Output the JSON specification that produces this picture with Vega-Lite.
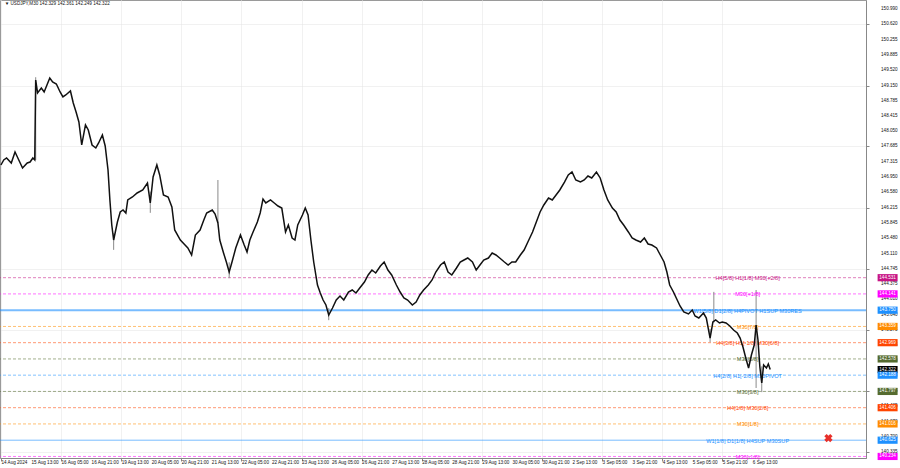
{
  "$schema": "https://vega.github.io/schema/vega-lite/v6.json",
  "width": 866,
  "height": 458,
  "autosize": {"type": "none"},
  "padding": {"left": 0, "top": 0, "right": 34, "bottom": 10},
  "background": "white",
  "config": {
    "view": {"stroke": "#9a9a9a", "strokeWidth": 1},
    "axis": {"labels": false, "domainColor": "#888", "tickColor": "#888", "gridColor": "#e2e2e2", "gridDash": [1, 1], "zindex": 0, "title": null}
  },
  "datasets": {
    "px": [
      {"i":0,"c":147.240},{"i":3,"c":147.360},{"i":6,"c":147.408},{"i":11,"c":147.288},{"i":15,"c":147.553},{"i":17,"c":147.457},{"i":20,"c":147.312},{"i":23,"c":147.168},{"i":28,"c":147.288},{"i":31,"c":147.312},{"i":34,"c":147.408},{"i":36,"c":147.360},{"i":37,"c":149.283},{"i":39,"c":148.971},{"i":43,"c":149.091},{"i":46,"c":148.995},{"i":49,"c":149.163},{"i":52,"c":149.331},{"i":55,"c":149.235},{"i":59,"c":149.187},{"i":63,"c":148.995},{"i":66,"c":148.875},{"i":69,"c":148.923},{"i":74,"c":149.019},{"i":77,"c":148.730},{"i":80,"c":148.514},{"i":83,"c":148.274},{"i":86,"c":147.721},{"i":90,"c":148.202},{"i":93,"c":148.081},{"i":97,"c":147.721},{"i":101,"c":147.649},{"i":104,"c":147.769},{"i":108,"c":147.961},{"i":111,"c":147.697},{"i":114,"c":147.120},{"i":116,"c":146.399},{"i":118,"c":145.798},{"i":120,"c":145.437},{"i":124,"c":145.870},{"i":127,"c":146.110},{"i":130,"c":146.158},{"i":133,"c":146.086},{"i":135,"c":146.399},{"i":140,"c":146.471},{"i":145,"c":146.567},{"i":151,"c":146.639},{"i":156,"c":146.807},{"i":159,"c":146.327},{"i":162,"c":146.952},{"i":166,"c":147.240},{"i":169,"c":147.000},{"i":173,"c":146.519},{"i":178,"c":146.471},{"i":182,"c":146.230},{"i":185,"c":145.678},{"i":191,"c":145.437},{"i":195,"c":145.341},{"i":199,"c":145.245},{"i":203,"c":145.077},{"i":207,"c":145.557},{"i":212,"c":145.678},{"i":216,"c":145.918},{"i":219,"c":146.086},{"i":225,"c":146.158},{"i":228,"c":146.062},{"i":231,"c":145.846},{"i":233,"c":145.437},{"i":237,"c":145.125},{"i":240,"c":144.908},{"i":243,"c":144.668},{"i":246,"c":144.908},{"i":250,"c":145.245},{"i":255,"c":145.557},{"i":259,"c":145.317},{"i":262,"c":145.149},{"i":265,"c":145.437},{"i":268,"c":145.606},{"i":273,"c":145.870},{"i":276,"c":146.086},{"i":279,"c":146.423},{"i":282,"c":146.327},{"i":287,"c":146.399},{"i":291,"c":146.327},{"i":295,"c":146.254},{"i":299,"c":146.206},{"i":303,"c":145.630},{"i":306,"c":145.798},{"i":310,"c":145.485},{"i":313,"c":145.437},{"i":316,"c":145.798},{"i":321,"c":146.038},{"i":324,"c":146.206},{"i":327,"c":146.038},{"i":330,"c":145.437},{"i":333,"c":144.908},{"i":337,"c":144.355},{"i":340,"c":144.163},{"i":343,"c":143.995},{"i":346,"c":143.875},{"i":349,"c":143.634},{"i":353,"c":143.803},{"i":357,"c":143.995},{"i":361,"c":144.091},{"i":365,"c":143.995},{"i":370,"c":144.187},{"i":374,"c":144.235},{"i":378,"c":144.163},{"i":382,"c":144.283},{"i":387,"c":144.428},{"i":391,"c":144.596},{"i":395,"c":144.716},{"i":399,"c":144.644},{"i":404,"c":144.812},{"i":408,"c":144.908},{"i":412,"c":144.716},{"i":416,"c":144.596},{"i":421,"c":144.355},{"i":425,"c":144.187},{"i":429,"c":144.043},{"i":433,"c":143.995},{"i":438,"c":143.875},{"i":442,"c":143.947},{"i":446,"c":144.115},{"i":450,"c":144.235},{"i":455,"c":144.355},{"i":459,"c":144.476},{"i":463,"c":144.668},{"i":468,"c":144.836},{"i":472,"c":144.908},{"i":476,"c":144.668},{"i":480,"c":144.596},{"i":485,"c":144.764},{"i":489,"c":144.908},{"i":493,"c":144.956},{"i":497,"c":145.004},{"i":502,"c":144.908},{"i":506,"c":144.716},{"i":510,"c":144.836},{"i":514,"c":144.956},{"i":519,"c":145.004},{"i":523,"c":145.125},{"i":527,"c":145.077},{"i":531,"c":145.004},{"i":536,"c":144.908},{"i":540,"c":144.836},{"i":544,"c":144.908},{"i":548,"c":144.908},{"i":553,"c":145.077},{"i":557,"c":145.197},{"i":561,"c":145.389},{"i":566,"c":145.630},{"i":570,"c":145.870},{"i":574,"c":146.110},{"i":578,"c":146.279},{"i":583,"c":146.447},{"i":587,"c":146.399},{"i":591,"c":146.519},{"i":595,"c":146.639},{"i":600,"c":146.831},{"i":604,"c":147.000},{"i":608,"c":147.072},{"i":612,"c":146.879},{"i":617,"c":146.831},{"i":621,"c":146.879},{"i":625,"c":146.976},{"i":629,"c":146.928},{"i":634,"c":147.072},{"i":638,"c":146.928},{"i":642,"c":146.639},{"i":646,"c":146.399},{"i":651,"c":146.206},{"i":655,"c":146.110},{"i":659,"c":145.918},{"i":663,"c":145.798},{"i":668,"c":145.630},{"i":672,"c":145.485},{"i":676,"c":145.437},{"i":681,"c":145.389},{"i":685,"c":145.485},{"i":689,"c":145.341},{"i":693,"c":145.317},{"i":698,"c":145.245},{"i":702,"c":145.077},{"i":706,"c":144.908},{"i":709,"c":144.668},{"i":712,"c":144.355},{"i":716,"c":144.187},{"i":719,"c":144.043},{"i":723,"c":143.851},{"i":727,"c":143.707},{"i":732,"c":143.659},{"i":736,"c":143.755},{"i":739,"c":143.610},{"i":743,"c":143.562},{"i":748,"c":143.682},{"i":751,"c":143.562},{"i":755,"c":143.081},{"i":758,"c":143.466},{"i":761,"c":143.514},{"i":765,"c":143.442},{"i":768,"c":143.466},{"i":772,"c":143.442},{"i":776,"c":143.370},{"i":780,"c":143.274},{"i":784,"c":143.201},{"i":787,"c":143.081},{"i":790,"c":142.865},{"i":793,"c":142.601},{"i":796,"c":142.360},{"i":799,"c":142.673},{"i":802,"c":142.913},{"i":804,"c":143.394},{"i":806,"c":143.033},{"i":808,"c":142.385},{"i":810,"c":142.000},{"i":812,"c":142.433},{"i":815,"c":142.360},{"i":817,"c":142.457},{"i":819,"c":142.322}
    ],
    "wicks": [
      {"i":37,"lo":147.36,"hi":149.35},{"i":120,"lo":145.20,"hi":145.60},{"i":159,"lo":146.09,"hi":146.60},{"i":231,"lo":145.846,"hi":146.879},{"i":243,"lo":144.52,"hi":144.90},{"i":349,"lo":143.51,"hi":143.80},{"i":755,"lo":142.98,"hi":143.30},{"i":759,"lo":143.45,"hi":144.19},{"i":804,"lo":141.88,"hi":144.235},{"i":810,"lo":141.78,"hi":142.40}
    ],
    "levels": [
      {"p":144.531,"t":"H4[5/8] H1[1/8] M30[+2/8]"},
      {"p":144.141,"t":"M30[+1/8]"},
      {"p":143.750,"t":"W1[5/8] D1[2/8] H4PIVOT H1SUP M30RES"},
      {"p":143.359,"t":"M30[7/8]"},
      {"p":142.969,"t":"H4[3/8] H1[-1/8] M30[6/8]"},
      {"p":142.578,"t":"M30[5/8]"},
      {"p":142.188,"t":"H4[2/8] H1[-2/8] M30PIVOT"},
      {"p":141.797,"t":"M30[3/8]"},
      {"p":141.406,"t":"H4[1/8] M30[2/8]"},
      {"p":141.016,"t":"M30[1/8]"},
      {"p":140.625,"t":"W1[1/8] D1[1/8] H4SUP M30SUP"},
      {"p":140.234,"t":"M30[-1/8]"}
    ],
    "boxes": [
      {"p":144.531,"k":"a"},{"p":144.141,"k":"b"},{"p":143.750,"k":"c"},{"p":143.359,"k":"d"},{"p":142.969,"k":"e"},{"p":142.578,"k":"f"},{"p":142.322,"k":"g"},{"p":142.188,"k":"c"},{"p":141.797,"k":"f"},{"p":141.406,"k":"e"},{"p":141.016,"k":"d"},{"p":140.625,"k":"c"},{"p":140.234,"k":"b"}
    ],
    "yticks": [{"p":150.990},{"p":150.620},{"p":150.255},{"p":149.885},{"p":149.520},{"p":149.150},{"p":148.785},{"p":148.415},{"p":148.050},{"p":147.685},{"p":147.315},{"p":146.950},{"p":146.580},{"p":146.215},{"p":145.845},{"p":145.480},{"p":145.110},{"p":144.745},{"p":144.375},{"p":144.010},{"p":143.640},{"p":143.275},{"p":142.905},{"p":142.540},{"p":142.170},{"p":141.805},{"p":141.435},{"p":141.070},{"p":140.700},{"p":140.335}],
    "xticks": [{"i":0,"s":"14 Aug 2024"},{"i":32,"s":"15 Aug 13:00"},{"i":64,"s":"16 Aug 05:00"},{"i":96,"s":"16 Aug 21:00"},{"i":128,"s":"19 Aug 13:00"},{"i":160,"s":"20 Aug 05:00"},{"i":192,"s":"20 Aug 21:00"},{"i":224,"s":"21 Aug 13:00"},{"i":256,"s":"22 Aug 05:00"},{"i":288,"s":"22 Aug 21:00"},{"i":320,"s":"23 Aug 13:00"},{"i":352,"s":"26 Aug 05:00"},{"i":384,"s":"26 Aug 21:00"},{"i":416,"s":"27 Aug 13:00"},{"i":448,"s":"28 Aug 05:00"},{"i":480,"s":"28 Aug 21:00"},{"i":512,"s":"29 Aug 13:00"},{"i":544,"s":"30 Aug 05:00"},{"i":576,"s":"30 Aug 21:00"},{"i":608,"s":"2 Sep 13:00"},{"i":640,"s":"3 Sep 05:00"},{"i":672,"s":"3 Sep 21:00"},{"i":704,"s":"4 Sep 13:00"},{"i":736,"s":"5 Sep 05:00"},{"i":768,"s":"5 Sep 21:00"},{"i":800,"s":"6 Sep 13:00"}],
    "mark": [{"i":881,"p":140.677}],
    "head": [{"i":4,"p":151.10,"s":"▼ USDJPY,M30  142.329 142.361 142.249 142.322"}]
  },
  "layer": [
    {
      "data": {"name": "levels"},
      "transform": [{"filter": "datum.p != 143.75 && datum.p != 140.625"}],
      "mark": {"type": "rule", "strokeDash": [3, 2], "strokeWidth": 1, "opacity": 0.55},
      "encoding": {
        "y": {"field": "p", "type": "quantitative", "scale": {"domain": [140.197, 151.206], "nice": false, "zero": false},
          "axis": {"orient": "right", "values": [150.990,150.620,150.255,149.885,149.520,149.150,148.785,148.415,148.050,147.685,147.315,146.950,146.580,146.215,145.845,145.480,145.110,144.745,144.375,144.010,143.640,143.275,142.905,142.540,142.170,141.805,141.435,141.070,140.700,140.335], "tickSize": 3, "grid": true, "domain": true}},
        "color": {"field": "t", "type": "nominal", "legend": null,
          "scale": {"domain": ["H4[5/8] H1[1/8] M30[+2/8]","M30[+1/8]","W1[5/8] D1[2/8] H4PIVOT H1SUP M30RES","M30[7/8]","H4[3/8] H1[-1/8] M30[6/8]","M30[5/8]","H4[2/8] H1[-2/8] M30PIVOT","M30[3/8]","H4[1/8] M30[2/8]","M30[1/8]","W1[1/8] D1[1/8] H4SUP M30SUP","M30[-1/8]"],
                    "range": ["#C71585","#FF00FF","#1E90FF","#FF8C00","#FF4500","#556B2F","#1E90FF","#556B2F","#FF4500","#FF8C00","#1E90FF","#FF00FF"]}}
      }
    },
    {
      "data": {"name": "levels"},
      "transform": [{"filter": "datum.p == 143.75"}],
      "mark": {"type": "rule", "strokeWidth": 2, "color": "#1E90FF", "opacity": 0.6},
      "encoding": {"y": {"field": "p", "type": "quantitative"}}
    },
    {
      "data": {"name": "levels"},
      "transform": [{"filter": "datum.p == 140.625"}],
      "mark": {"type": "rule", "strokeWidth": 1, "color": "#1E90FF", "opacity": 0.6},
      "encoding": {"y": {"field": "p", "type": "quantitative"}}
    },
    {
      "data": {"name": "wicks"},
      "mark": {"type": "rule", "color": "#8a8a8a", "strokeWidth": 1, "clip": true},
      "encoding": {
        "x": {"field": "i", "type": "quantitative", "scale": {"domain": [-1, 921], "nice": false, "zero": false},
          "axis": {"orient": "bottom", "values": [0,32,64,96,128,160,192,224,256,288,320,352,384,416,448,480,512,544,576,608,640,672,704,736,768,800], "tickSize": 3, "grid": true}},
        "y": {"field": "lo", "type": "quantitative"},
        "y2": {"field": "hi"}
      }
    },
    {
      "data": {"name": "yticks"},
      "mark": {"type": "text", "font": "Liberation Sans", "fontSize": 4.6, "color": "#111", "align": "left", "baseline": "middle", "clip": false},
      "encoding": {
        "x": {"datum": 937, "type": "quantitative"},
        "y": {"field": "p", "type": "quantitative"},
        "text": {"field": "p", "type": "quantitative", "format": ".3f"}
      }
    },
    {
      "data": {"name": "xticks"},
      "mark": {"type": "text", "font": "Liberation Sans", "fontSize": 4.6, "color": "#111", "align": "left", "baseline": "middle", "dx": 0.5, "clip": false},
      "encoding": {
        "x": {"field": "i", "type": "quantitative"},
        "y": {"datum": 140.07, "type": "quantitative"},
        "text": {"field": "s"}
      }
    },
    {
      "data": {"name": "levels"},
      "mark": {"type": "text", "font": "Liberation Sans", "fontSize": 5.6, "align": "center", "baseline": "middle", "dy": 0.5},
      "encoding": {
        "x": {"datum": 795, "type": "quantitative"},
        "y": {"field": "p", "type": "quantitative"},
        "text": {"field": "t"},
        "color": {"field": "t", "type": "nominal", "legend": null}
      }
    },
    {
      "data": {"name": "px"},
      "mark": {"type": "line", "color": "#111111", "strokeWidth": 1.5, "clip": true},
      "encoding": {
        "x": {"field": "i", "type": "quantitative"},
        "y": {"field": "c", "type": "quantitative"}
      }
    },
    {
      "data": {"name": "boxes"},
      "mark": {"type": "point", "filled": true, "opacity": 1, "shape": "M-1,-0.36L1,-0.36L1,0.36L-1,0.36Z", "size": 400, "clip": false},
      "encoding": {
        "x": {"datum": 944, "type": "quantitative"},
        "y": {"field": "p", "type": "quantitative"},
        "fill": {"field": "k", "type": "nominal", "legend": null,
          "scale": {"domain": ["a","b","c","d","e","f","g"], "range": ["#C71585","#FF00FF","#1E90FF","#FF8C00","#FF4500","#556B2F","#000000"]}}
      }
    },
    {
      "data": {"name": "boxes"},
      "mark": {"type": "text", "font": "Liberation Sans", "fontSize": 4.6, "color": "white", "align": "center", "baseline": "middle", "clip": false},
      "encoding": {
        "x": {"datum": 944, "type": "quantitative"},
        "y": {"field": "p", "type": "quantitative"},
        "text": {"field": "p", "type": "quantitative", "format": ".3f"}
      }
    },
    {
      "data": {"name": "head"},
      "mark": {"type": "text", "font": "Liberation Sans", "fontSize": 4.6, "color": "#111", "align": "left", "baseline": "middle"},
      "encoding": {
        "x": {"field": "i", "type": "quantitative"},
        "y": {"field": "p", "type": "quantitative"},
        "text": {"field": "s"}
      }
    },
    {
      "data": {"name": "mark"},
      "mark": {"type": "point", "shape": "cross", "angle": 45, "filled": true, "color": "#E8302A", "opacity": 1, "size": 70},
      "encoding": {
        "x": {"field": "i", "type": "quantitative"},
        "y": {"field": "p", "type": "quantitative"}
      }
    }
  ]
}
